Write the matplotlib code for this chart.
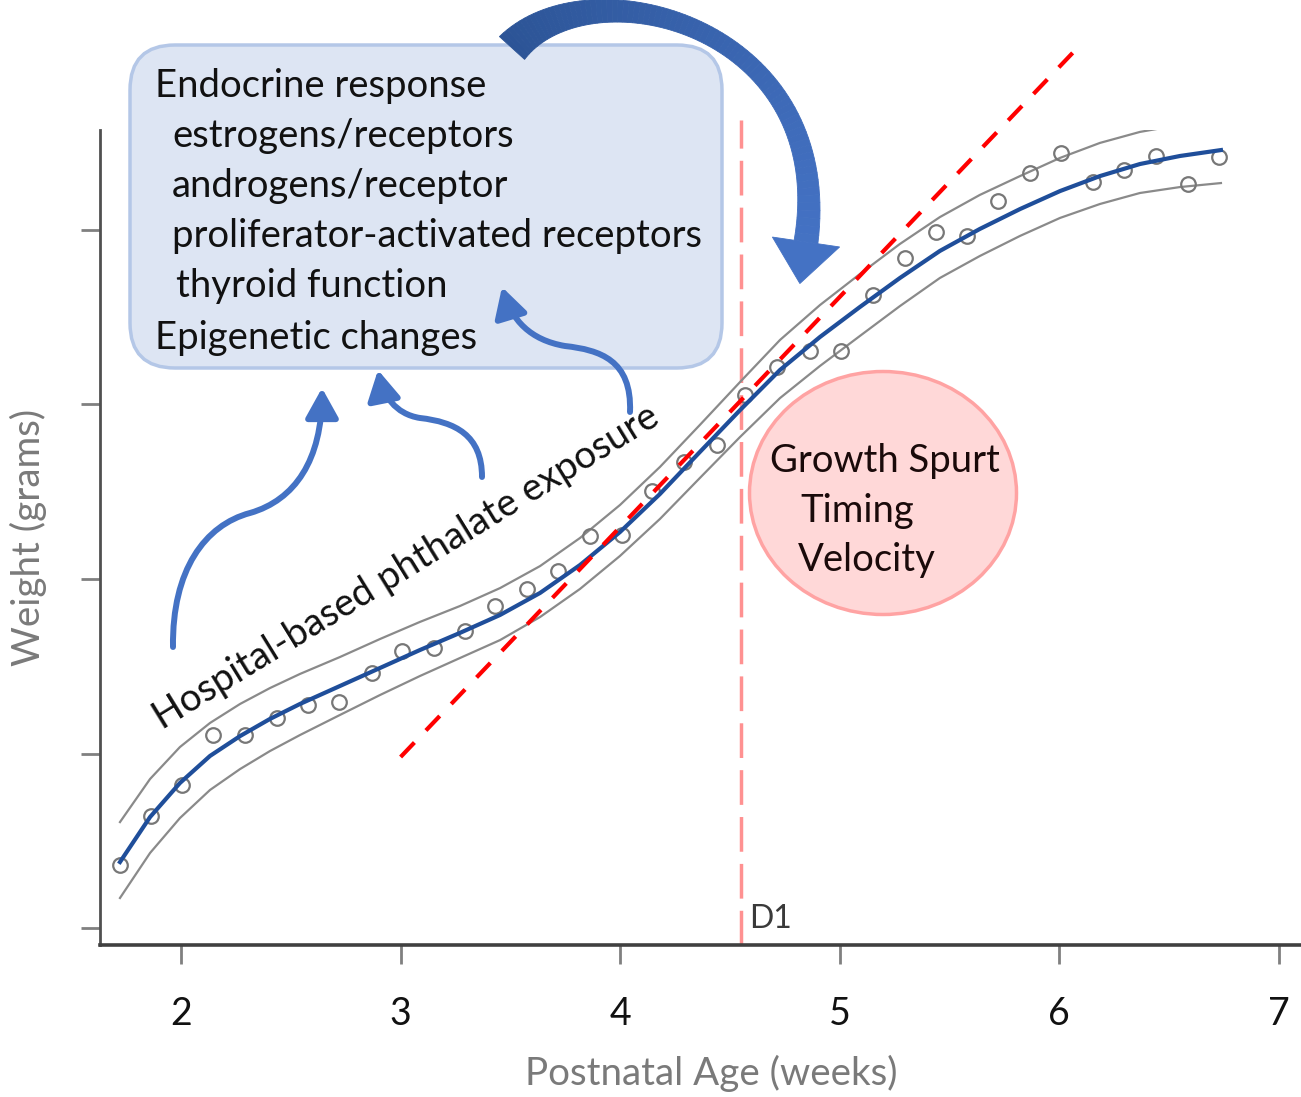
import numpy as np
import matplotlib
matplotlib.use("Agg")
import matplotlib.pyplot as plt
from matplotlib.patches import FancyBboxPatch, Ellipse, Polygon, FancyArrowPatch
from matplotlib.path import Path

plt.rcParams["font.family"] = ["Lato", "DejaVu Sans"]

# observed weights (arbitrary units, y ticks unlabeled)
AGE_OBS = [1.722, 1.863, 2.005, 2.146, 2.291, 2.437, 2.578, 2.720, 2.870, 3.006,
           3.152, 3.293, 3.430, 3.576, 3.717, 3.862, 4.008, 4.145, 4.290, 4.441,
           4.568, 4.714, 4.864, 5.005, 5.151, 5.297, 5.438, 5.579, 5.720, 5.866,
           6.007, 6.153, 6.294, 6.440, 6.586, 6.727]
WEIGHT_OBS = [0.361, 0.642, 0.819, 1.106, 1.106, 1.203, 1.278, 1.295, 1.461, 1.587,
              1.605, 1.702, 1.845, 1.943, 2.046, 2.246, 2.252, 2.504, 2.670, 2.768,
              3.054, 3.215, 3.307, 3.307, 3.628, 3.840, 3.989, 3.966, 4.166, 4.327,
              4.441, 4.275, 4.344, 4.424, 4.264, 4.418]

# fitted growth curve and its band, read at the same ages
CURVE_AGE = [1.722, 1.859, 1.995, 2.132, 2.269, 2.405, 2.542, 2.724, 2.906, 3.088,
             3.270, 3.453, 3.635, 3.817, 3.999, 4.181, 4.363, 4.546, 4.728, 4.910,
             5.092, 5.274, 5.456, 5.638, 5.821, 6.003, 6.185, 6.367, 6.549, 6.736]
FIT_WEIGHT = [0.378, 0.636, 0.831, 0.986, 1.100, 1.198, 1.284, 1.387, 1.490, 1.593,
              1.691, 1.794, 1.920, 2.080, 2.269, 2.487, 2.728, 2.968, 3.198, 3.387,
              3.559, 3.725, 3.880, 4.006, 4.120, 4.223, 4.309, 4.378, 4.424, 4.458]
UPPER_WEIGHT = [0.607, 0.854, 1.037, 1.175, 1.284, 1.375, 1.456, 1.553, 1.656, 1.754,
                1.845, 1.948, 2.074, 2.235, 2.424, 2.642, 2.883, 3.129, 3.370, 3.570,
                3.748, 3.920, 4.074, 4.201, 4.309, 4.413, 4.499, 4.562, 4.602, 4.630]
LOWER_WEIGHT = [0.172, 0.430, 0.630, 0.791, 0.911, 1.014, 1.106, 1.221, 1.335, 1.444,
                1.547, 1.650, 1.782, 1.943, 2.132, 2.344, 2.579, 2.814, 3.037, 3.221,
                3.393, 3.564, 3.725, 3.851, 3.966, 4.069, 4.149, 4.212, 4.246, 4.269]

# linear growth-velocity line and D1 marker
TREND_AGE = [3.0, 6.11]
TREND_WEIGHT = [0.98, 5.08]
D1_AGE = 4.55

X_TICKS = [2, 3, 4, 5, 6, 7]
Y_TICKS = [0, 1, 2, 3, 4]

BLUE = "#1f4e9a"
GREY = "#8a8a8a"
ARROW = "#4472c4"

fig = plt.figure(figsize=(13.01, 10.97), dpi=100)
ax = fig.add_axes([100 / 1301, 152 / 1097, 1200 / 1301, 815 / 1097])
ax.set_xlim(1.631, 7.096)
ax.set_ylim(-0.0974, 4.573)

ax.plot(CURVE_AGE, UPPER_WEIGHT, color=GREY, lw=1.6, zorder=2, solid_joinstyle="round")
ax.plot(CURVE_AGE, LOWER_WEIGHT, color=GREY, lw=1.6, zorder=2, solid_joinstyle="round")
ax.plot(AGE_OBS, WEIGHT_OBS, "o", ms=10.5, mfc="none", mec="#777777", mew=1.6, zorder=3)
ax.plot(CURVE_AGE, FIT_WEIGHT, color=BLUE, lw=3, zorder=4, solid_joinstyle="round")
ax.plot(TREND_AGE, TREND_WEIGHT, color="#ff0000", lw=3, dashes=(4.8, 4),
        clip_on=False, zorder=5)
ax.plot([D1_AGE, D1_AGE], [-0.0974, 4.63], color="#ff9191", lw=2.5, dashes=(10, 3.5),
        clip_on=False, zorder=1)
ax.text(D1_AGE + 0.035, 0.0, "D1", fontsize=23, color="#3a3a3a", va="baseline")

for side in ("top", "right"):
    ax.spines[side].set_visible(False)
ax.spines["left"].set_color("#505050")
ax.spines["left"].set_linewidth(2)
ax.spines["bottom"].set_color("#404040")
ax.spines["bottom"].set_linewidth(2.6)
ax.set_xticks(X_TICKS)
ax.set_yticks(Y_TICKS)
ax.set_yticklabels([])
ax.tick_params(axis="both", length=14, width=2, color="#808080")
ax.tick_params(axis="x", labelsize=27, pad=23, labelcolor="#111111")
ax.set_xlabel("Postnatal Age (weeks)", fontsize=27.7, color="#7a7a7a", labelpad=16,
              x=0.509)
ax.set_ylabel("Weight (grams)", fontsize=27.7, color="#7a7a7a", labelpad=21)

# annotation layer in pixel coordinates
ov = fig.add_axes([0, 0, 1, 1], facecolor="none")
ov.set_xlim(0, 1301)
ov.set_ylim(1097, 0)
ov.axis("off")

ov.add_patch(FancyBboxPatch((130, 45), 592, 323,
                            boxstyle="round,pad=0,rounding_size=45",
                            facecolor="#dde5f3", edgecolor="#b4c7e7", lw=2.5))
box_lines = [("Endocrine response", 155, 97),
             ("estrogens/receptors", 172, 147),
             ("androgens/receptor", 172, 197),
             ("proliferator-activated receptors", 172, 247),
             ("thyroid function", 176, 297),
             ("Epigenetic changes", 155, 349)]
for s, x, y in box_lines:
    ov.text(x, y, s, fontsize=27.5, color="#111111", va="baseline")

ov.add_patch(Ellipse((883, 493), 267, 243, facecolor="#ffd8d8",
                     edgecolor="#ffa3a3", lw=2.5))
for s, x, y in [("Growth Spurt", 770, 472), ("Timing", 800, 522), ("Velocity", 798, 571)]:
    ov.text(x, y, s, fontsize=27.5, color="#1a0a0a", va="baseline")

ov.text(406, 567, "Hospital-based phthalate exposure", fontsize=27.5, color="#111111",
        rotation=31.6, rotation_mode="anchor", ha="center", va="center")

# small curved arrows
C4 = [Path.MOVETO, Path.CURVE4, Path.CURVE4, Path.CURVE4,
      Path.CURVE4, Path.CURVE4, Path.CURVE4]
small_arrows = [
    [(173, 647), (172, 570), (205, 525), (250, 513), (295, 500), (322, 460), (322, 388)],
    [(482, 477), (482, 435), (455, 422), (420, 418), (395, 414), (383, 395), (378, 370)],
    [(630, 412), (632, 360), (600, 350), (565, 346), (530, 340), (512, 320), (502, 287)],
]
for verts in small_arrows:
    ov.add_patch(FancyArrowPatch(path=Path(verts, C4),
                                 arrowstyle="-|>,head_length=0.9,head_width=0.5",
                                 mutation_scale=20, color=ARROW, lw=4.3))

# big curved arrow (tapered shaft + head)
P = np.array([(512, 48), (590, -38), (838, 25), (806, 242)], dtype=float)
t = np.linspace(0, 1, 80)[:, None]
pts = ((1 - t) ** 3 * P[0] + 3 * (1 - t) ** 2 * t * P[1]
       + 3 * (1 - t) * t ** 2 * P[2] + t ** 3 * P[3])
tan = (3 * (1 - t) ** 2 * (P[1] - P[0]) + 6 * (1 - t) * t * (P[2] - P[1])
       + 3 * t ** 2 * (P[3] - P[2]))
tan /= np.linalg.norm(tan, axis=1, keepdims=True)
nrm = np.column_stack([-tan[:, 1], tan[:, 0]])
hw = (17 - 26 * t + 21 * t ** 2)
left = pts + hw * nrm
right = pts - hw * nrm
c0 = np.array(matplotlib.colors.to_rgb("#2c5496"))
c1 = np.array(matplotlib.colors.to_rgb("#4472c4"))
for i in range(len(t) - 1):
    col = c0 + (c1 - c0) * t[i, 0]
    ov.add_patch(Polygon([left[i], left[i + 1], right[i + 1], right[i]],
                         closed=True, facecolor=col, edgecolor=col, lw=0.6))
d = tan[-1]
n = nrm[-1]
base = pts[-1]
ov.add_patch(Polygon([base + 34 * n, base + 42 * d, base - 34 * n], closed=True,
                     facecolor=c1, edgecolor=c1, lw=0.6))

fig.savefig("out.png", dpi=100)
